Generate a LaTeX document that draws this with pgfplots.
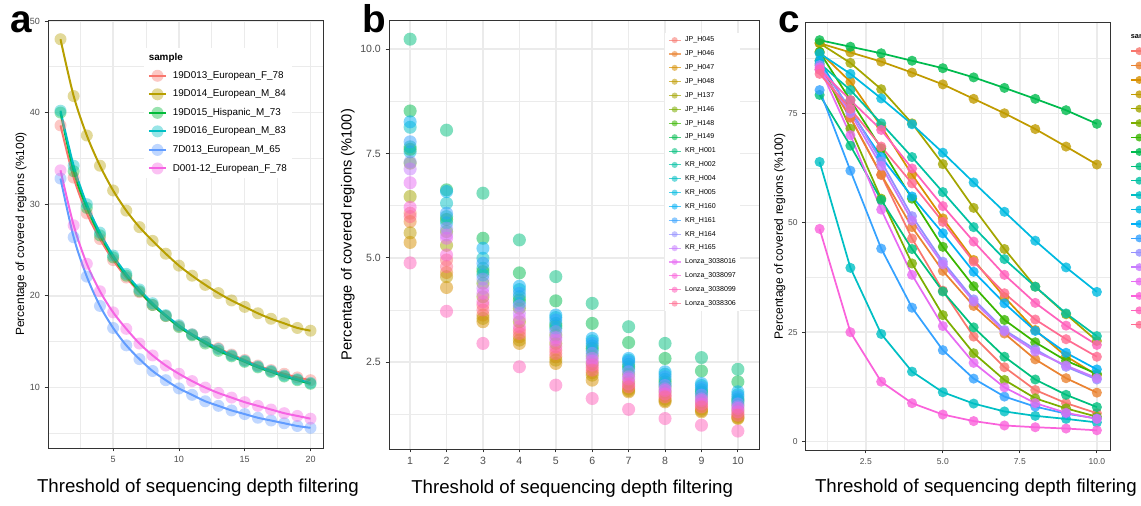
\documentclass[border=0pt]{standalone}
\usepackage{fontspec}
\setmainfont{Liberation Sans}
\usepackage{pgfplots}
\usepackage{pgfplotstable}
\pgfplotsset{compat=1.18}

\definecolor{h1}{HTML}{F8766D}
\definecolor{h2}{HTML}{EA8331}
\definecolor{h3}{HTML}{D89000}
\definecolor{h4}{HTML}{C09B00}
\definecolor{h5}{HTML}{A3A500}
\definecolor{h6}{HTML}{7CAE00}
\definecolor{h7}{HTML}{39B600}
\definecolor{h8}{HTML}{00BB4E}
\definecolor{h9}{HTML}{00BF7D}
\definecolor{h10}{HTML}{00C1A3}
\definecolor{h11}{HTML}{00BFC4}
\definecolor{h12}{HTML}{00BAE0}
\definecolor{h13}{HTML}{00B0F6}
\definecolor{h14}{HTML}{35A2FF}
\definecolor{h15}{HTML}{9590FF}
\definecolor{h16}{HTML}{C77CFF}
\definecolor{h17}{HTML}{E76BF3}
\definecolor{h18}{HTML}{FA62DB}
\definecolor{h19}{HTML}{FF62BC}
\definecolor{h20}{HTML}{FF6C91}
\definecolor{s1}{HTML}{F8766D}
\definecolor{s2}{HTML}{B79F00}
\definecolor{s3}{HTML}{00BA38}
\definecolor{s4}{HTML}{00BFC4}
\definecolor{s5}{HTML}{619CFF}
\definecolor{s6}{HTML}{F564E3}
\definecolor{gridc}{HTML}{EBEBEB}
\definecolor{tickc}{HTML}{4D4D4D}
\definecolor{framec}{HTML}{333333}

% panel a: red gold green cyan blue magenta
\pgfplotstableread{
x a1 a2 a3 a4 a5 a6
1 38.6 48.0 40.0 40.2 32.8 33.7
2 32.9 41.8 33.6 34.2 26.4 27.7
3 29.0 37.5 29.6 30.0 22.1 23.5
4 26.2 34.2 26.6 26.9 18.9 20.5
5 23.9 31.5 24.2 24.4 16.5 18.2
6 22.0 29.3 22.2 22.4 14.6 16.4
7 20.4 27.5 20.5 20.7 13.1 14.8
8 19.0 26.0 19.0 19.2 11.8 13.5
9 17.8 24.6 17.8 17.9 10.8 12.4
10 16.7 23.3 16.6 16.8 9.9 11.5
11 15.8 22.2 15.7 15.8 9.2 10.7
12 15.0 21.2 14.8 15.0 8.5 10.0
13 14.3 20.3 14.0 14.2 8.0 9.4
14 13.6 19.5 13.4 13.5 7.5 8.9
15 13.0 18.8 12.8 12.9 7.1 8.4
16 12.4 18.1 12.2 12.3 6.7 8.0
17 11.9 17.5 11.7 11.8 6.4 7.6
18 11.5 17.0 11.2 11.3 6.1 7.2
19 11.1 16.5 10.8 10.9 5.8 6.9
20 10.8 16.2 10.4 10.5 5.6 6.6
}\tabA

% panel b
\pgfplotstableread{
x r0 r1 r2 r3 r4 r5 r6 r7 r8 r9 r10 r11 r12 r13 r14 r15 r16 r17 r18 r19
1 10.24 8.52 8.26 8.13 7.78 7.66 7.60 7.54 7.30 7.27 7.13 6.80 6.47 6.21 6.07 5.99 5.87 5.60 5.37 4.88
2 8.06 6.63 6.59 6.31 6.07 5.99 5.92 5.84 5.71 5.63 5.55 5.47 5.30 5.07 4.95 4.79 4.65 4.55 4.29 3.72
3 6.55 5.47 5.23 4.99 4.87 4.75 4.67 4.59 4.49 4.39 4.27 4.15 4.07 3.95 3.87 3.75 3.63 3.55 3.47 2.95
4 5.43 4.64 4.32 4.24 4.15 4.07 3.99 3.91 3.85 3.79 3.67 3.55 3.47 3.35 3.27 3.19 3.11 3.03 2.95 2.39
5 4.55 3.97 3.63 3.57 3.51 3.43 3.37 3.31 3.23 3.15 3.09 3.03 2.95 2.87 2.79 2.71 2.63 2.55 2.47 1.95
6 3.91 3.43 3.07 3.01 2.95 2.89 2.83 2.77 2.71 2.65 2.59 2.53 2.47 2.43 2.37 2.31 2.25 2.19 2.07 1.63
7 3.35 2.97 2.59 2.55 2.51 2.45 2.39 2.33 2.27 2.21 2.15 2.10 2.03 1.98 1.94 1.91 1.86 1.82 1.79 1.37
8 2.95 2.59 2.27 2.21 2.15 2.09 2.03 1.98 1.94 1.91 1.86 1.82 1.79 1.74 1.70 1.67 1.62 1.58 1.55 1.15
9 2.61 2.29 1.99 1.94 1.89 1.84 1.79 1.75 1.71 1.67 1.62 1.58 1.55 1.50 1.46 1.43 1.38 1.34 1.31 0.99
10 2.33 2.03 1.79 1.72 1.67 1.62 1.58 1.55 1.50 1.47 1.43 1.39 1.35 1.31 1.27 1.23 1.20 1.17 1.15 0.85
}\tabB

% panel c (column cK has colour hK)
\pgfplotstableread{
x c1 c2 c3 c4 c5 c6 c7 c8 c9 c10 c11 c12 c13 c14 c15 c16 c17 c18 c19 c20
1 85 86 89 91 91 87 89 91.7 79.2 86.4 63.9 88.7 87 80.3 86 85 85.5 48.6 85 84
2 74 74 82.2 88.9 86.5 71.5 78 90.2 67.6 80.3 39.7 84 75.5 61.9 76 75 70 25 78 76
3 60.9 61 72 86.8 80.5 55.5 67 88.7 55.2 72.7 24.6 78.4 65 44.1 64 63 53 13.7 71.2 67.4
4 46.4 49 61 84.3 72.7 40.7 55.5 87 44 65 16 72.5 56 30.6 51.5 50.5 38.1 8.8 62.4 59
5 34.5 39 51 81.6 63.4 28.9 44.5 85.3 34.3 57 11.3 66 47.6 20.9 41.1 40.5 26.4 6.2 53.8 50.2
6 24 31 41.5 78.3 53.4 20.2 35.5 83.2 26.1 49 8.7 59.2 38.8 14.4 32.5 32 18 4.7 45.7 41.1
7 17 24.7 33 75 44 14.1 27.8 80.8 19.4 41.7 6.9 52.5 31.6 10.3 25.5 25.2 12.4 3.7 38.1 33.9
8 11.8 18.8 25.5 71.4 35.4 9.9 22.7 78.3 14.2 35.4 5.9 45.9 25.3 8 21.1 20.6 8.8 3.3 31.7 27.9
9 8.8 14.5 19.5 67.4 29.1 7.6 18.5 75.7 10.7 29.3 5.2 39.8 20.3 6.4 17.1 17.4 6.6 3.0 26.5 23.4
10 6.5 11.2 15.2 63.3 23 5.7 15.5 72.6 7.9 24.1 4.4 34.2 16.5 5.3 14.2 14.5 5.2 2.6 22.1 19.4
}\tabC

\pgfplotsset{
  ggbase/.style={
    scale only axis,
    grid=both,
    major grid style={gridc, line width=1.1pt},
    minor grid style={gridc, line width=0.55pt},
    axis line style={framec, line width=0.7pt},
    tick align=outside,
    tick pos=left,
    major tick length=2.6pt,
    minor tick length=0pt,
    tick style={framec, line width=0.6pt},
    tick label style={text=tickc},
    /pgf/number format/assume math mode=true,
    xlabel style={font=\fontsize{14}{16}\selectfont, anchor=base},
    legend cell align=left,
  },
}

\newcommand{\sampleentries}[1]{%
  \addlegendimage{#1,color=h1}\addlegendentry{JP\_H045}
  \addlegendimage{#1,color=h2}\addlegendentry{JP\_H046}
  \addlegendimage{#1,color=h3}\addlegendentry{JP\_H047}
  \addlegendimage{#1,color=h4}\addlegendentry{JP\_H048}
  \addlegendimage{#1,color=h5}\addlegendentry{JP\_H137}
  \addlegendimage{#1,color=h6}\addlegendentry{JP\_H146}
  \addlegendimage{#1,color=h7}\addlegendentry{JP\_H148}
  \addlegendimage{#1,color=h8}\addlegendentry{JP\_H149}
  \addlegendimage{#1,color=h9}\addlegendentry{KR\_H001}
  \addlegendimage{#1,color=h10}\addlegendentry{KR\_H002}
  \addlegendimage{#1,color=h11}\addlegendentry{KR\_H004}
  \addlegendimage{#1,color=h12}\addlegendentry{KR\_H005}
  \addlegendimage{#1,color=h13}\addlegendentry{KR\_H160}
  \addlegendimage{#1,color=h14}\addlegendentry{KR\_H161}
  \addlegendimage{#1,color=h15}\addlegendentry{KR\_H164}
  \addlegendimage{#1,color=h16}\addlegendentry{KR\_H165}
  \addlegendimage{#1,color=h17}\addlegendentry{Lonza\_3038016}
  \addlegendimage{#1,color=h18}\addlegendentry{Lonza\_3038097}
  \addlegendimage{#1,color=h19}\addlegendentry{Lonza\_3038099}
  \addlegendimage{#1,color=h20}\addlegendentry{Lonza\_3038306}
}

\begin{document}
\begin{tikzpicture}
\useasboundingbox (0pt,0pt) rectangle (855.75pt,379.5pt);
\clip (0pt,0pt) rectangle (855.75pt,379.5pt);

% ---------------- panel a ----------------
\begin{axis}[ggbase,
  at={(36pt,43.5pt)}, anchor=south west,
  width=206.25pt, height=321pt,
  xmin=0.05, xmax=20.95, ymin=3.4, ymax=50.1,
  xtick={5,10,15,20}, ytick={10,20,30,40,50},
  minor xtick={2.5,7.5,12.5,17.5}, minor ytick={5,15,25,35,45},
  tick label style={font=\fontsize{6.75}{7}\selectfont},
  ylabel={Percentage of covered regions (\%100)},
  ylabel style={font=\fontsize{8.9}{10}\selectfont, at={(axis description cs:-0.098,0.5)}, anchor=center},
  xlabel={Threshold of sequencing depth filtering},
  xlabel style={at={(axis description cs:0.545,-0.105)}},
  legend style={at={(axis description cs:0.348,0.936)}, anchor=north west, draw=none, fill=white,
    font=\fontsize{7.4}{8}\selectfont, inner xsep=3pt, inner ysep=3pt, row sep=4.9pt,
    nodes={inner sep=0.8pt, text height=5.5pt, text depth=1.6pt},
    /tikz/every odd column/.append style={column sep=3.5pt}},
  legend image code/.code={\draw[mark repeat=2,mark phase=2,#1] plot coordinates {(0pt,0pt) (6.4pt,0pt) (12.8pt,0pt)};},
  apt/.style={only marks, mark=*, mark size=4.5pt, mark options={draw opacity=0, fill opacity=0.4}, forget plot},
  aln/.style={no marks, smooth, line width=1.5pt, forget plot},
  akey/.style={line width=1.5pt, mark=*, mark size=4.5pt, mark options={draw opacity=0, fill opacity=0.4}},
]
\addplot[apt, color=s1] table[x=x,y=a1]{\tabA};
\addplot[apt, color=s2] table[x=x,y=a2]{\tabA};
\addplot[apt, color=s3] table[x=x,y=a3]{\tabA};
\addplot[apt, color=s4] table[x=x,y=a4]{\tabA};
\addplot[apt, color=s5] table[x=x,y=a5]{\tabA};
\addplot[apt, color=s6] table[x=x,y=a6]{\tabA};
\addplot[aln, color=s1] table[x=x,y=a1]{\tabA};
\addplot[aln, color=s2] table[x=x,y=a2]{\tabA};
\addplot[aln, color=s3] table[x=x,y=a3]{\tabA};
\addplot[aln, color=s4] table[x=x,y=a4]{\tabA};
\addplot[aln, color=s5] table[x=x,y=a5]{\tabA};
\addplot[aln, color=s6] table[x=x,y=a6]{\tabA};
\addlegendimage{empty legend}\addlegendentry{\makebox[0pt][l]{\kern-18pt\textbf{sample}}}
\addlegendimage{akey,color=s1}\addlegendentry{19D013\_European\_F\_78}
\addlegendimage{akey,color=s2}\addlegendentry{19D014\_European\_M\_84}
\addlegendimage{akey,color=s3}\addlegendentry{19D015\_Hispanic\_M\_73}
\addlegendimage{akey,color=s4}\addlegendentry{19D016\_European\_M\_83}
\addlegendimage{akey,color=s5}\addlegendentry{7D013\_European\_M\_65}
\addlegendimage{akey,color=s6}\addlegendentry{D001-12\_European\_F\_78}
\end{axis}

% ---------------- panel b ----------------
\begin{axis}[ggbase,
  at={(291.75pt,42.75pt)}, anchor=south west,
  width=277.5pt, height=321.75pt,
  xmin=0.42, xmax=10.58, ymin=0.42, ymax=10.70,
  xtick={1,2,3,4,5,6,7,8,9,10}, ytick={2.5,5,7.5,10},
  minor ytick={1.25,3.75,6.25,8.75},
  yticklabel style={/pgf/number format/.cd, fixed, fixed zerofill, precision=1},
  tick label style={font=\fontsize{7.9}{9}\selectfont},
  ylabel={Percentage of covered regions (\%100)},
  ylabel style={font=\fontsize{11}{12}\selectfont, at={(axis description cs:-0.111,0.5)}, anchor=center},
  xlabel={Threshold of sequencing depth filtering},
  xlabel style={at={(axis description cs:0.495,-0.103)}},
  legend style={at={(axis description cs:0.745,0.970)}, anchor=north west, draw=none, fill=white,
    font=\fontsize{5.3}{6}\selectfont, inner xsep=2.5pt, inner ysep=2pt, row sep=3.9pt,
    nodes={inner sep=0.6pt, text height=4pt, text depth=1.3pt},
    /tikz/every odd column/.append style={column sep=2.5pt}},
  legend image code/.code={\draw[mark repeat=2,mark phase=2,#1] plot coordinates {(0pt,0pt) (4.4pt,0pt) (8.8pt,0pt)};},
  bpt/.style={only marks, mark=*, mark size=4.9pt, mark options={draw opacity=0, fill opacity=0.5}, forget plot},
  bkey/.style={line width=0.8pt, draw opacity=0.7, mark=*, mark size=2.3pt, mark options={draw opacity=0, fill opacity=0.55}},
]
\addplot[bpt, color=h1] table[x=x,y=r14]{\tabB};
\addplot[bpt, color=h2] table[x=x,y=r16]{\tabB};
\addplot[bpt, color=h3] table[x=x,y=r18]{\tabB};
\addplot[bpt, color=h4] table[x=x,y=r17]{\tabB};
\addplot[bpt, color=h5] table[x=x,y=r12]{\tabB};
\addplot[bpt, color=h6] table[x=x,y=r9]{\tabB};
\addplot[bpt, color=h7] table[x=x,y=r6]{\tabB};
\addplot[bpt, color=h8] table[x=x,y=r1]{\tabB};
\addplot[bpt, color=h9] table[x=x,y=r0]{\tabB};
\addplot[bpt, color=h10] table[x=x,y=r5]{\tabB};
\addplot[bpt, color=h11] table[x=x,y=r3]{\tabB};
\addplot[bpt, color=h12] table[x=x,y=r7]{\tabB};
\addplot[bpt, color=h13] table[x=x,y=r2]{\tabB};
\addplot[bpt, color=h14] table[x=x,y=r4]{\tabB};
\addplot[bpt, color=h15] table[x=x,y=r8]{\tabB};
\addplot[bpt, color=h16] table[x=x,y=r10]{\tabB};
\addplot[bpt, color=h17] table[x=x,y=r11]{\tabB};
\addplot[bpt, color=h18] table[x=x,y=r13]{\tabB};
\addplot[bpt, color=h19] table[x=x,y=r19]{\tabB};
\addplot[bpt, color=h20] table[x=x,y=r15]{\tabB};
\sampleentries{bkey}
\end{axis}

% ---------------- panel c ----------------
\begin{axis}[ggbase,
  at={(604.3pt,42pt)}, anchor=south west,
  width=228.75pt, height=320.5pt,
  xmin=0.55, xmax=10.45, ymin=-1.9, ymax=95.7,
  xtick={2.5,5,7.5,10}, ytick={0,25,50,75},
  minor xtick={1.25,3.75,6.25,8.75}, minor ytick={12.5,37.5,62.5,87.5},
  xticklabel style={/pgf/number format/.cd, fixed, fixed zerofill, precision=1},
  tick label style={font=\fontsize{6.4}{7}\selectfont},
  ylabel={Percentage of covered regions (\%100)},
  ylabel style={font=\fontsize{9}{10}\selectfont, at={(axis description cs:-0.085,0.5)}, anchor=center},
  xlabel={Threshold of sequencing depth filtering},
  xlabel style={at={(axis description cs:0.558,-0.1006)}},
  legend style={at={(axis description cs:1.06,0.9845)}, anchor=north west, draw=none, fill=white,
    font=\fontsize{5.5}{6}\selectfont, inner xsep=1pt, inner ysep=2pt, row sep=4.0pt,
    nodes={inner sep=0.6pt, text height=4.2pt, text depth=1.4pt},
    /tikz/every odd column/.append style={column sep=2.5pt}},
  legend image code/.code={\draw[mark repeat=2,mark phase=2,#1] plot coordinates {(0pt,0pt) (6pt,0pt) (12pt,0pt)};},
  ckey/.style={line width=1.1pt, mark=*, mark size=3pt, mark options={draw opacity=0, fill opacity=0.8}},
]
\pgfplotsinvokeforeach{1,...,20}{
  \addplot[color=h#1, line width=1.3pt, no marks, forget plot] table[x=x,y=c#1]{\tabC};
}
\pgfplotsinvokeforeach{1,...,20}{
  \addplot[color=h#1, only marks, mark=*, mark size=3.8pt, mark options={draw opacity=0, fill opacity=0.8}, forget plot] table[x=x,y=c#1]{\tabC};
}
\addlegendimage{empty legend}\addlegendentry{\makebox[0pt][l]{\kern-16pt\textbf{sample}}}
\sampleentries{ckey}
\end{axis}

% panel letters
\node[anchor=base west, inner sep=0pt, font=\fontsize{29}{30}\selectfont\bfseries] at (7.5pt,354.75pt) {a};
\node[anchor=base west, inner sep=0pt, font=\fontsize{29}{30}\selectfont\bfseries] at (271.5pt,354.75pt) {b};
\node[anchor=base west, inner sep=0pt, font=\fontsize{29}{30}\selectfont\bfseries] at (583.5pt,354.75pt) {c};
\end{tikzpicture}
\end{document}
